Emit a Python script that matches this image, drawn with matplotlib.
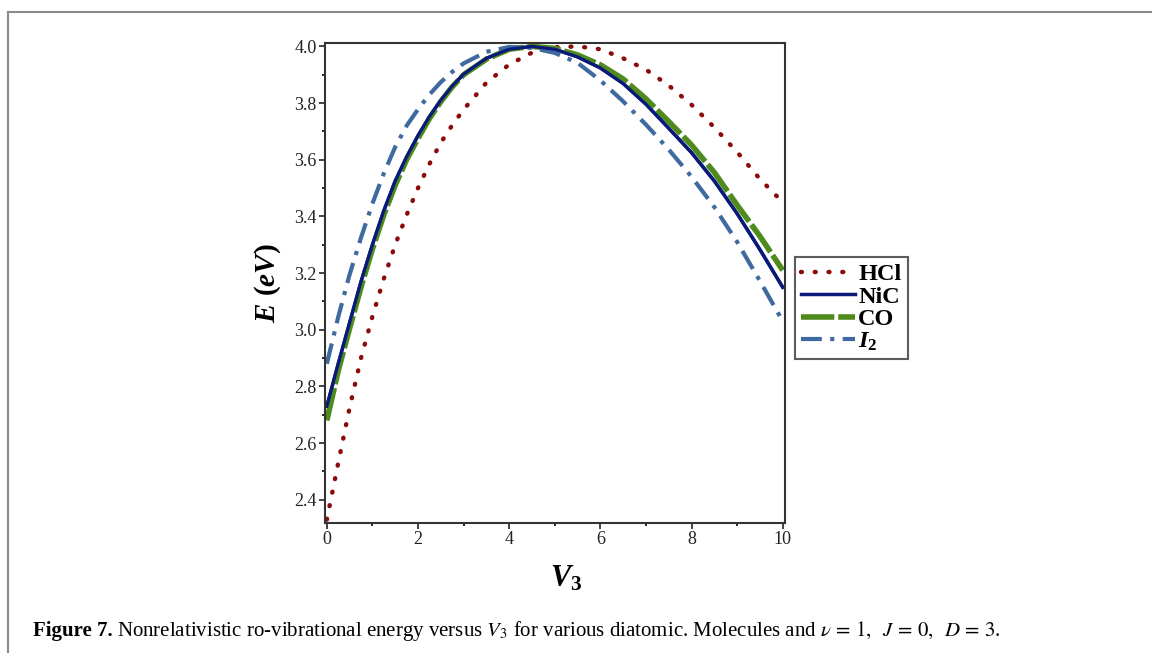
import numpy as np
import matplotlib
matplotlib.use("Agg")
from matplotlib import pyplot as plt
from matplotlib.lines import Line2D

# potential parameter V3
v3 = [0, 0.25, 0.5, 0.75, 1.0, 1.25, 1.5, 1.75, 2.0, 2.25, 2.5, 2.75, 3.0, 3.5,
      4.0, 4.5, 5.0, 5.5, 6.0, 6.5, 7.0, 7.5, 8.0, 8.5, 9.0, 9.5, 10.0]

# energies (eV)
e_hcl = [2.33, 2.53, 2.725, 2.90, 3.047, 3.18, 3.30, 3.405, 3.50, 3.585, 3.66, 3.722, 3.777, 3.872,
         3.936, 3.978, 3.997, 4.00, 3.99, 3.958, 3.918, 3.862, 3.794, 3.714, 3.627, 3.532, 3.45]
e_nic = [2.73, 2.88, 3.025, 3.17, 3.30, 3.42, 3.525, 3.61, 3.685, 3.752, 3.81, 3.86, 3.902, 3.958,
         3.99, 4.00, 3.99, 3.963, 3.924, 3.869, 3.796, 3.711, 3.625, 3.525, 3.41, 3.283, 3.15]
e_co = [2.68, 2.855, 3.005, 3.15, 3.285, 3.405, 3.51, 3.60, 3.675, 3.745, 3.805, 3.857, 3.90, 3.955,
        3.99, 4.00, 3.993, 3.97, 3.935, 3.885, 3.815, 3.735, 3.652, 3.555, 3.44, 3.33, 3.21]
e_i2 = [2.88, 3.045, 3.195, 3.325, 3.445, 3.552, 3.645, 3.72, 3.778, 3.83, 3.874, 3.91, 3.94, 3.981,
        3.998, 3.995, 3.977, 3.942, 3.88, 3.806, 3.724, 3.636, 3.54, 3.433, 3.31, 3.172, 3.03]

plt.rcParams['font.family'] = 'Liberation Serif'
plt.rcParams['mathtext.fontset'] = 'custom'
plt.rcParams['mathtext.it'] = 'Liberation Serif:italic:bold'
plt.rcParams['mathtext.rm'] = 'Liberation Serif:bold'
plt.rcParams['mathtext.bf'] = 'Liberation Serif:bold'

fig = plt.figure(figsize=(11.52, 6.53), dpi=100)

# page frame lines
fig.add_artist(Line2D([8/1152, 8/1152], [0, 1 - 12/653], color='#8a8a8a', lw=1.5))
fig.add_artist(Line2D([8/1152, 1], [1 - 12/653, 1 - 12/653], color='#8a8a8a', lw=1.5))

ax = fig.add_axes([325/1152, 130/653, 460/1152, 480/653])

ax.plot(v3, e_hcl, color='#8b0a0a', lw=3.2, linestyle=(0, (0.2, 2.9)),
        dash_capstyle='round', label='HCl')
ax.plot(v3, e_nic, color='#0a1a7a', lw=2.5, label='NiC')
ax.plot(v3, e_co, color='#4f8a1c', lw=4, linestyle=(0, (6, 0.7)), label='CO')
ax.plot(v3, e_i2, color='#3f6aa0', lw=3, linestyle=(0, (5, 2, 1, 2)), label='$I_2$')
# redraw NiC on top of CO
ax.plot(v3, e_nic, color='#0a1a7a', lw=2.3)

ax.set_xlim(-0.04, 10.05)
ax.set_ylim(2.318, 4.012)
ax.set_xticks([0, 2, 4, 6, 8, 10])
ax.set_xticks([1, 3, 5, 7, 9], minor=True)
ax.set_yticks([2.4, 2.6, 2.8, 3.0, 3.2, 3.4, 3.6, 3.8, 4.0])
ax.set_yticks(np.arange(2.4, 4.0, 0.2) + 0.1, minor=True)
ax.set_yticklabels(['2.4', '2.6', '2.8', '3.0', '3.2', '3.4', '3.6', '3.8', '4.0'])
ax.tick_params(which='major', length=4, width=1.2, labelsize=13, colors='#222222', pad=2)
ax.tick_params(which='minor', length=2.5, width=1.2)
for s in ax.spines.values():
    s.set_linewidth(1.5)
    s.set_color('#333333')

ax.set_xlabel('$V_3$', fontsize=22)
ax.xaxis.set_label_coords(0.525, -0.085)
ax.set_ylabel('$E\\ (eV)$', fontsize=21, labelpad=8)

handles, labels = ax.get_legend_handles_labels()
leg = ax.legend(handles[:4], labels[:4], loc='upper left', bbox_to_anchor=(1.0217, 0.554),
                borderaxespad=0, frameon=True, fancybox=False, edgecolor='#333333',
                borderpad=0.25, handlelength=2.2, handletextpad=0.15, labelspacing=0.02,
                prop={'weight': 'bold', 'size': 17.5})
leg.get_frame().set_linewidth(1.5)

# caption: bold "Figure 7." followed by the regular text on the same baseline
cap_y = 1 - 636/653
cap = fig.text(33/1152, cap_y, 'Figure 7.', fontsize=15, fontweight='bold',
               va='baseline', ha='left')
bb = cap.get_window_extent(renderer=fig.canvas.get_renderer())
fig.text((bb.x1 + 4) / fig.bbox.width, cap_y,
         'Nonrelativistic ro-vibrational energy versus $V_3$ for various diatomic. '
         'Molecules and $\\nu\\,=\\,1,\\;\\; J\\,=\\,0,\\;\\; D\\,=\\,3$.',
         fontsize=15, va='baseline', ha='left', math_fontfamily='stix')

fig.savefig('out.png', dpi=100)
